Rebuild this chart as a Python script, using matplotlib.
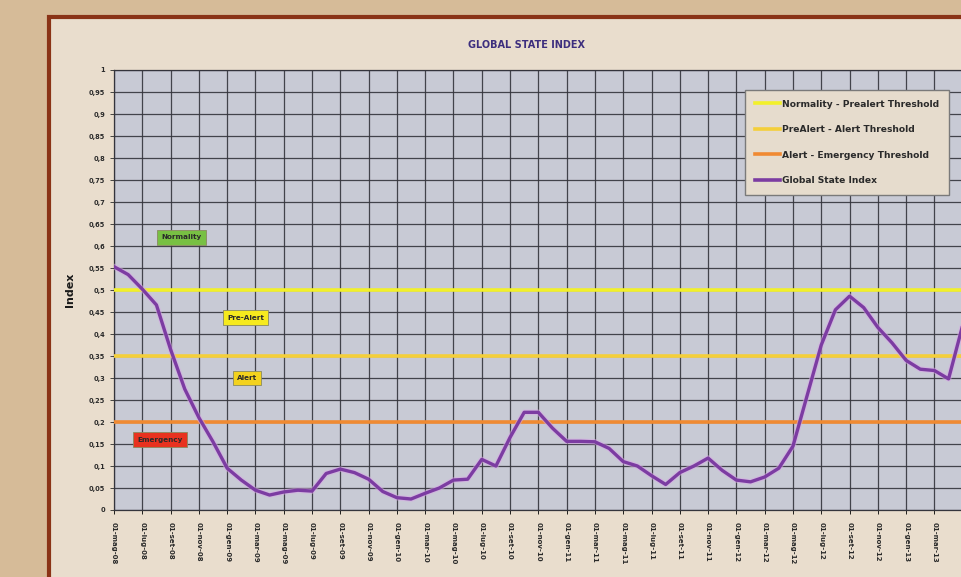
import matplotlib
matplotlib.use("Agg")
import matplotlib.pyplot as plt
import matplotlib.patches as patches
from matplotlib.ticker import FuncFormatter, MultipleLocator

# monthly values of the index
index_values = [
    0.553, 0.535, 0.502, 0.466, 0.365, 0.275, 0.210, 0.155, 0.095, 0.068,
    0.045, 0.034, 0.041, 0.045, 0.043, 0.083, 0.093, 0.085, 0.070, 0.042,
    0.028, 0.025, 0.038, 0.050, 0.068, 0.070, 0.115, 0.100, 0.165, 0.222,
    0.222, 0.186, 0.156, 0.156, 0.155, 0.140, 0.110, 0.100, 0.078, 0.058,
    0.085, 0.100, 0.118, 0.090, 0.068, 0.064, 0.075, 0.095, 0.145, 0.260,
    0.375, 0.455, 0.486, 0.460, 0.415, 0.380, 0.340, 0.320, 0.317, 0.298,
    0.420,
]

months_it = ["gen", "feb", "mar", "apr", "mag", "giu",
             "lug", "ago", "set", "ott", "nov", "dic"]
start_year, start_month = 2008, 4  # 0-based month index: mag-08
tick_labels = []
for k in range(0, 60, 2):
    m = start_month + k
    y = start_year + m // 12
    tick_labels.append(f"01-{months_it[m % 12]}-{y % 100:02d}")

thresholds = [0.5, 0.35, 0.2]
threshold_names = ["Normality - Prealert Threshold",
                   "PreAlert - Alert Threshold",
                   "Alert - Emergency Threshold"]
threshold_colors = ["#f2f02a", "#f4cf3a", "#f08a32"]

zone_names = ["Normality", "Pre-Alert", "Alert", "Emergency"]
zone_pos = [(4.8, 0.62), (9.3, 0.437), (9.4, 0.30), (3.25, 0.16)]
zone_colors = ["#78c043", "#f6ea1e", "#f3d21e", "#e8321f"]

fig = plt.figure(figsize=(9.61, 5.77), dpi=100)
fig.patch.set_facecolor("#d6bb98")

# framed panel
panel = patches.Rectangle((48.5 / 961, -0.05), 1.0, 1 - 16.5 / 577 + 0.05,
                          transform=fig.transFigure, facecolor="#e9ddcd",
                          edgecolor="#8a3316", linewidth=3, zorder=-5)
fig.patches.append(panel)

ax = fig.add_axes([114 / 961, 67 / 577, 877 / 961, 440 / 577])
ax.set_facecolor("#c8cad5")

x = list(range(len(index_values)))
ax.set_xlim(0, 62)
ax.set_ylim(0, 1)

ax.yaxis.set_major_locator(MultipleLocator(0.05))
ax.set_xticks(list(range(0, 62, 2)))
ax.set_xticklabels(tick_labels + [""], rotation=-90, fontsize=5,
                   color="#2a2a2a", fontweight="bold")


def comma_fmt(v, pos):
    if abs(v - round(v)) < 1e-9:
        return f"{int(round(v))}"
    return f"{v:.2f}".rstrip("0").replace(".", ",")


ax.yaxis.set_major_formatter(FuncFormatter(comma_fmt))
ax.tick_params(axis="y", labelsize=4.8, colors="#2a2a2a", length=3, width=0.6)
for lbl in ax.get_yticklabels():
    lbl.set_fontweight("bold")
ax.tick_params(axis="x", length=3, width=0.6, pad=6)
ax.grid(True, which="major", color="#34343c", linewidth=0.9, alpha=0.9)
ax.set_axisbelow(True)
for s in ax.spines.values():
    s.set_color("#34343c")
    s.set_linewidth(0.9)

for t, c in zip(thresholds, threshold_colors):
    ax.axhline(t, color=c, linewidth=2.6, zorder=3)

ax.plot(x, index_values, color="#d8a8e6", linewidth=4.0, alpha=0.55, zorder=4)
ax.plot(x, index_values, color="#7c3ca2", linewidth=2.4, zorder=5)

for name, (px, py), c in zip(zone_names, zone_pos, zone_colors):
    ax.text(px, py, name, fontsize=5.2, color="#2a2a2a", ha="center",
            va="center", zorder=6, fontweight="bold",
            bbox=dict(boxstyle="square,pad=0.6", facecolor=c,
                      edgecolor="#8a8a60", linewidth=0.6))

handles = []
for c in threshold_colors:
    handles.append(plt.Line2D([], [], color=c, linewidth=2.6))
handles.append(plt.Line2D([], [], color="#7c3ca2", linewidth=2.6))
labels = threshold_names + ["Global State Index"]
leg = ax.legend(handles, labels, loc="upper left",
                bbox_to_anchor=(626 / 877, 0.966), fontsize=6.6,
                frameon=True, fancybox=False, borderpad=1.1,
                labelspacing=1.8, handlelength=2.8, handletextpad=0.2)
leg.get_frame().set_facecolor("#e6dccd")
leg.get_frame().set_edgecolor("#7a7a7a")
leg.get_frame().set_alpha(1)
leg.set_zorder(10)
for txt in leg.get_texts():
    txt.set_fontweight("bold")
    txt.set_color("#2a2a2a")

ax.set_ylabel("Index", fontsize=8, fontweight="bold", color="#1a1a1a",
              labelpad=10)
fig.text(527 / 961, 1 - 45 / 577, "GLOBAL STATE INDEX", fontsize=7,
         fontweight="bold", color="#3d2e7e", ha="center", va="center")

fig.savefig("out.png", dpi=100, facecolor=fig.get_facecolor())
